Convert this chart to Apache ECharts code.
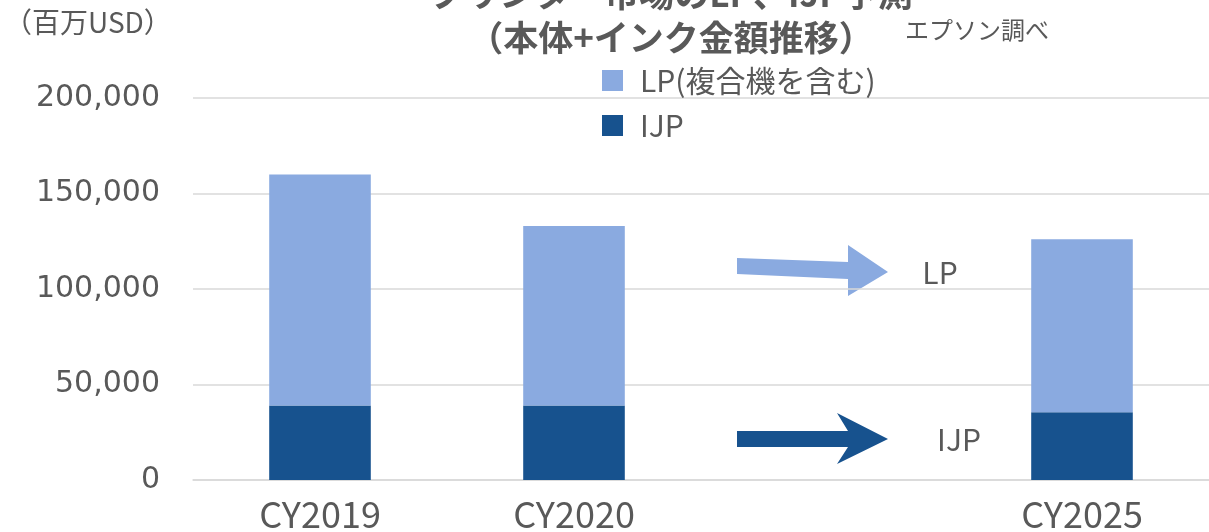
<!DOCTYPE html>
<html>
<head>
<meta charset="utf-8">
<script src="https://cdn.jsdelivr.net/npm/echarts@6/dist/echarts.min.js"></script>
<style>
html,body{margin:0;padding:0;background:#fff;}
#chart{width:1209px;height:532px;}
</style>
</head>
<body>
<div id="chart"></div>
<script>
// ---- data ----
var categories = ['CY2019', 'CY2020', '', 'CY2025'];
var ijpValues = [39000, 39000, null, 35500];
var lpValues = [121000, 94000, null, 90500];
var seriesNames = ['LP(複合機を含む)', 'IJP'];
var yTicks = { min: 0, max: 200000, interval: 50000 };
var titleLines = ['プリンター市場のLP、IJP予測', '（本体+インク金額推移）'];
var unitLabel = '（百万USD）';
var sourceLabel = 'エプソン調べ';
var arrowLabels = ['LP', 'IJP'];

var TXT = '#595959';
var LP_COLOR = '#8aaae0';
var IJP_COLOR = '#17528e';
var FONT = '"Noto Sans CJK JP", "Noto Sans", sans-serif';

var chart = echarts.init(document.getElementById('chart'));
var baseGraphic = [
  { type: 'text', left: 4, top: 8,
    style: { text: unitLabel, font: '28px ' + FONT, fill: TXT } },
  { type: 'text', left: 905, top: 18,
    style: { text: sourceLabel, font: '24px ' + FONT, fill: TXT } }
];
var option = {
  animation: false,
  backgroundColor: '#ffffff',
  textStyle: { fontFamily: FONT, color: TXT },
  title: {
    text: titleLines.join('\n'),
    left: 666, textAlign: 'center',
    top: -33,
    textStyle: { fontFamily: FONT, fontSize: 35, fontWeight: 'bold', color: TXT, lineHeight: 44 }
  },
  legend: {
    data: seriesNames,
    orient: 'vertical',
    left: 597, top: 60,
    itemWidth: 21, itemHeight: 21, itemGap: 14,
    icon: 'rect',
    textStyle: { fontFamily: FONT, fontSize: 30, color: TXT, lineHeight: 31, padding: [0, 0, 0, 12] }
  },
  grid: { left: 193, right: -4, top: 98, bottom: 50, containLabel: false },
  xAxis: {
    type: 'category',
    data: categories,
    axisLine: { show: true, lineStyle: { color: '#d9d9d9', width: 1.5 } },
    axisTick: { show: false },
    axisLabel: { fontFamily: FONT, fontSize: 36, color: TXT, margin: 16 }
  },
  yAxis: {
    type: 'value',
    min: yTicks.min, max: yTicks.max, interval: yTicks.interval,
    axisLine: { show: false },
    axisTick: { show: false },
    splitLine: { lineStyle: { color: '#d9d9d9', width: 1.5 } },
    axisLabel: {
      fontFamily: '"DejaVu Sans", sans-serif', fontSize: 30, color: TXT, margin: 33,
      formatter: function (v) { return v.toLocaleString('en-US'); }
    }
  },
  series: [
    { name: seriesNames[1], type: 'bar', stack: 'total', data: ijpValues, barWidth: '40%',
      itemStyle: { color: IJP_COLOR } },
    { name: seriesNames[0], type: 'bar', stack: 'total', data: lpValues, barWidth: '40%',
      itemStyle: { color: LP_COLOR } }
  ],
  graphic: baseGraphic
};
chart.setOption(option);

// Annotation arrows placed relative to the blank category slot
var cx = chart.convertToPixel({ xAxisIndex: 0 }, 2);
function off(pts) { return pts.map(function (p) { return [cx + p[0], p[1]]; }); }
chart.setOption({
  graphic: baseGraphic.concat([
    { type: 'polygon', shape: { points: off([[-91,258],[20,262],[20,245],[60,272],[20,296],[20,279],[-91,274]]) },
      style: { fill: LP_COLOR } },
    { type: 'polygon', shape: { points: off([[-91,431],[20,431],[9,413],[60,439],[9,464],[20,447],[-91,447]]) },
      style: { fill: IJP_COLOR } },
    { type: 'text', x: cx + 112, y: 273,
      style: { text: arrowLabels[0], font: '30px ' + FONT, fill: TXT, textAlign: 'center', textVerticalAlign: 'middle' } },
    { type: 'text', x: cx + 131, y: 440,
      style: { text: arrowLabels[1], font: '30px ' + FONT, fill: TXT, textAlign: 'center', textVerticalAlign: 'middle' } }
  ])
});
</script>
</body>
</html>
